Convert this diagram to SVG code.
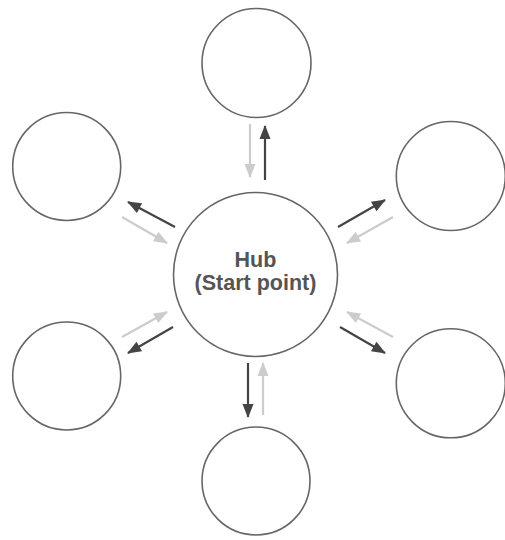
<svg xmlns="http://www.w3.org/2000/svg" width="505" height="540" viewBox="0 0 505 540">
<style>
.node{fill:#fff;stroke:#666;stroke-width:1.6}
.dark{stroke:#444;stroke-width:2.2;fill:none}
.light{stroke:#ccc;stroke-width:2.2;fill:none}
.lbl{font-family:"Liberation Sans",Arial,sans-serif;font-weight:bold;font-size:21.5px;fill:#555;text-anchor:middle}
</style>
<defs>
<marker id="ad" viewBox="0 0 14 11" refX="13" refY="5.5" markerWidth="14" markerHeight="11" markerUnits="userSpaceOnUse" orient="auto" overflow="visible">
<path d="M0,0 L14,5.5 L0,11 z" fill="#444"/>
</marker>
<marker id="al" viewBox="0 0 14 11" refX="13" refY="5.5" markerWidth="14" markerHeight="11" markerUnits="userSpaceOnUse" orient="auto" overflow="visible">
<path d="M0,0 L14,5.5 L0,11 z" fill="#ccc"/>
</marker>
</defs>
<rect width="505" height="540" fill="#fff"/>
<g id="connectors">
<line class="light" x1="250" y1="124" x2="250" y2="177" marker-end="url(#al)"/>
<line class="dark" x1="265" y1="180" x2="265" y2="126" marker-end="url(#ad)"/>
<line class="dark" x1="248" y1="363" x2="248" y2="417" marker-end="url(#ad)"/>
<line class="light" x1="263" y1="415" x2="263" y2="363" marker-end="url(#al)"/>
<line class="dark" x1="175" y1="227" x2="128" y2="202" marker-end="url(#ad)"/>
<line class="light" x1="122" y1="217" x2="167" y2="243" marker-end="url(#al)"/>
<line class="dark" x1="338" y1="227" x2="385" y2="200" marker-end="url(#ad)"/>
<line class="light" x1="393" y1="217" x2="347" y2="243" marker-end="url(#al)"/>
<line class="light" x1="122" y1="337" x2="167" y2="312" marker-end="url(#al)"/>
<line class="dark" x1="173" y1="327" x2="128" y2="353" marker-end="url(#ad)"/>
<line class="light" x1="393" y1="337" x2="347" y2="312" marker-end="url(#al)"/>
<line class="dark" x1="340" y1="327" x2="385" y2="353" marker-end="url(#ad)"/>
</g>
<g id="hub">
<circle class="node" cx="255.5" cy="274.5" r="82"/>
<text class="lbl" x="255.5" y="267">Hub</text>
<text class="lbl" x="255.5" y="290">(Start point)</text>
</g>
<g id="node-top"><circle class="node" cx="256.5" cy="63" r="54.5"/></g>
<g id="node-left-top"><circle class="node" cx="66.7" cy="166.5" r="54"/></g>
<g id="node-right-top"><circle class="node" cx="450.8" cy="176" r="54.5"/></g>
<g id="node-left-bottom"><circle class="node" cx="66.7" cy="376" r="54"/></g>
<g id="node-right-bottom"><circle class="node" cx="450.8" cy="383.3" r="54.5"/></g>
<g id="node-bottom"><circle class="node" cx="256" cy="481" r="54"/></g>
</svg>
